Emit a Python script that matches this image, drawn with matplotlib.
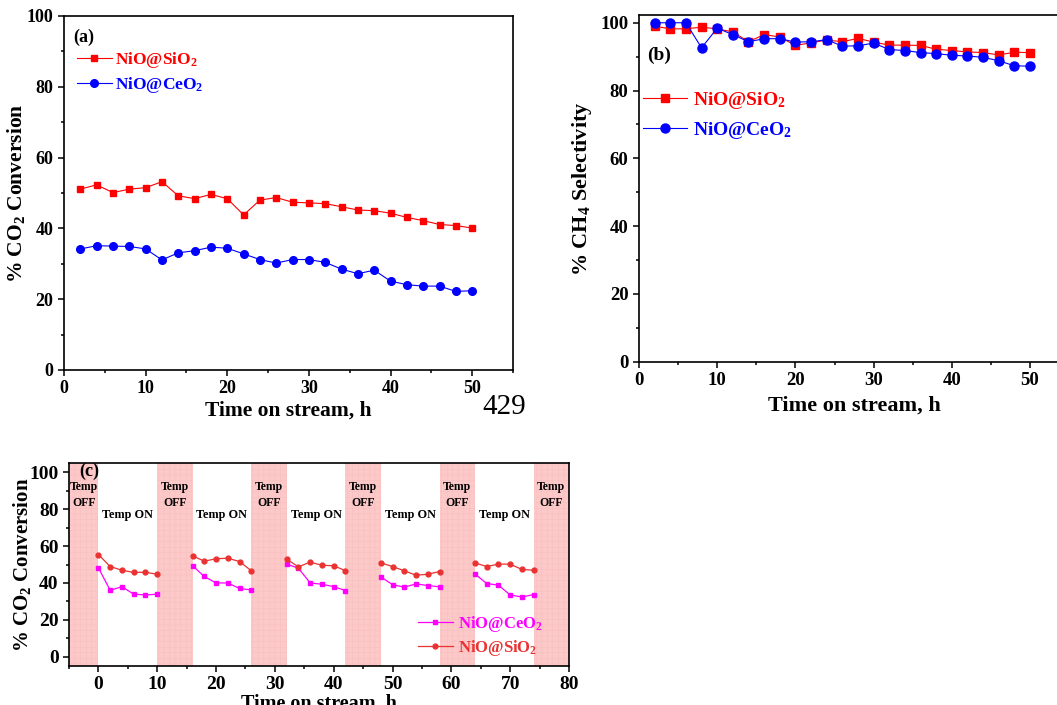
import matplotlib
matplotlib.use("Agg")
import matplotlib.pyplot as plt
import numpy as np

plt.rcParams['font.family'] = ['Liberation Serif', 'DejaVu Serif']
plt.rcParams['font.weight'] = 'bold'
plt.rcParams['mathtext.fontset'] = 'custom'
plt.rcParams['mathtext.rm'] = 'Liberation Serif:bold'
plt.rcParams['mathtext.bf'] = 'Liberation Serif:bold'
plt.rcParams['mathtext.default'] = 'rm'
plt.rcParams['hatch.linewidth'] = 0.3

# ---------------- data ----------------
time_ab = [2, 4, 6, 8, 10, 12, 14, 16, 18, 20, 22, 24, 26, 28, 30, 32, 34, 36, 38, 40, 42, 44, 46, 48, 50]

conv_sio2 = [51.1, 52.3, 50.1, 51.1, 51.5, 53.2, 49.2, 48.4, 49.6, 48.4, 43.8, 48.0, 48.7,
             47.4, 47.2, 47.0, 46.1, 45.2, 45.0, 44.3, 43.1, 42.2, 41.1, 40.8, 40.1]
conv_ceo2 = [34.2, 35.1, 35.0, 34.9, 34.2, 31.1, 33.1, 33.7, 34.7, 34.4, 32.8, 31.2, 30.2,
             31.2, 31.2, 30.4, 28.5, 27.2, 28.2, 25.1, 24.1, 23.7, 23.7, 22.2, 22.4]

sel_sio2 = [99.0, 98.2, 98.2, 98.7, 98.2, 97.3, 94.4, 96.5, 95.8, 93.3, 94.1, 94.9, 94.4,
            95.4, 94.3, 93.4, 93.4, 93.3, 92.2, 91.8, 91.4, 91.2, 90.5, 91.3, 91.2]
sel_ceo2 = [100.0, 100.0, 100.0, 92.6, 98.4, 96.5, 94.4, 95.3, 95.3, 94.3, 94.4, 95.0, 93.1,
            93.2, 94.0, 92.1, 91.8, 91.2, 90.9, 90.4, 90.2, 89.8, 88.8, 87.3, 87.2]

# panel (c): on/off cycling, 5 "Temp ON" segments of 6 points each
time_c = [0, 2, 4, 6, 8, 10,
          16, 18, 20, 22, 24, 26,
          32, 34, 36, 38, 40, 42,
          48, 50, 52, 54, 56, 58,
          64, 66, 68, 70, 72, 74]
cyc_ceo2 = [48.2, 36.0, 38.0, 33.9, 33.5, 33.9,
            49.3, 43.5, 40.0, 40.0, 37.0, 36.2,
            50.2, 48.0, 40.0, 39.3, 38.0, 35.9,
            43.3, 39.1, 37.7, 39.5, 38.6, 37.9,
            44.9, 39.7, 38.8, 33.5, 32.4, 33.7]
cyc_sio2 = [55.4, 48.9, 46.9, 45.7, 45.8, 44.7,
            54.7, 51.8, 53.1, 53.4, 51.6, 46.6,
            52.9, 48.7, 51.3, 49.6, 49.3, 46.7,
            50.9, 48.9, 46.6, 44.2, 44.7, 46.2,
            50.9, 48.9, 50.2, 50.2, 47.3, 46.9]
seg_len = 6
off_starts = [-5, 10, 26, 42, 58, 74]
off_ends = [0, 16, 32, 48, 64, 80]
on_centers = [5, 21, 37, 53, 69]

lab_sio2 = r'NiO@SiO$_2$'
lab_ceo2 = r'NiO@CeO$_2$'

RED = '#ff0000'
BLUE = '#0000ff'
MAG = '#ff00ff'
RED_C = '#ea3232'
PINK = '#fcc8c8'
PINK_GRID = '#f8bebe'

W, H = 1057, 705
fig = plt.figure(figsize=(W / 100, H / 100), dpi=100)


def axes_px(left, top, right, bottom):
    return fig.add_axes([left / W, 1 - bottom / H, (right - left) / W, (bottom - top) / H])


def style(ax, fs):
    for s in ax.spines.values():
        s.set_linewidth(1.2)
    ax.tick_params(which='both', direction='out', top=False, right=False, width=1.1, labelsize=fs)
    ax.tick_params(which='major', length=4)
    ax.tick_params(which='minor', length=2.5)
    for t in ax.get_xticklabels() + ax.get_yticklabels():
        t.set_fontweight('bold')


# ---------------- panel (a) ----------------
axa = axes_px(64, 16, 513, 370)
axa.plot(time_ab, conv_sio2, color=RED, lw=0.8, marker='s', ms=5, label=lab_sio2)
axa.plot(time_ab, conv_ceo2, color=BLUE, lw=0.8, marker='o', ms=5.5, label=lab_ceo2)
axa.set_xlim(0, 55)
axa.set_ylim(0, 100)
axa.set_xticks(np.arange(0, 51, 10))
axa.set_xticks(np.arange(5, 56, 10), minor=True)
axa.set_yticks(np.arange(0, 101, 20))
axa.set_yticks(np.arange(10, 100, 20), minor=True)
style(axa, 13)
axa.set_xlabel('Time on stream, h', fontsize=15.5, fontweight='bold', labelpad=2)
axa.set_ylabel('% CO$_2$ Conversion', fontsize=15.5, fontweight='bold', labelpad=0)
axa.text(0.02, 0.94, '(a)', transform=axa.transAxes, fontsize=13, fontweight='bold',
         va='center', ha='left')
axa.legend(loc='upper left', bbox_to_anchor=(0.029, 0.905), frameon=False, fontsize=12.5,
           handlelength=2.0, handletextpad=0.2, labelspacing=0.3, borderpad=0,
           borderaxespad=0, numpoints=1, labelcolor='linecolor')

# ---------------- panel (b) ----------------
axb = axes_px(639, 15.3, 639 + 7.82 * 55, 361.7)
axb.plot(time_ab, sel_sio2, color=RED, lw=0.8, marker='s', ms=6, label=lab_sio2)
axb.plot(time_ab, sel_ceo2, color=BLUE, lw=0.8, marker='o', ms=6.5, label=lab_ceo2)
axb.set_xlim(0, 55)
axb.set_ylim(0, 102.2)
axb.set_xticks(np.arange(0, 51, 10))
axb.set_xticks(np.arange(5, 56, 10), minor=True)
axb.set_yticks(np.arange(0, 101, 20))
axb.set_yticks(np.arange(10, 100, 20), minor=True)
style(axb, 13.5)
axb.set_xlabel('Time on stream, h', fontsize=16, fontweight='bold', labelpad=5)
axb.set_ylabel('% CH$_4$ Selectivity', fontsize=16, fontweight='bold', labelpad=5)
axb.text(0.02, 0.885, '(b)', transform=axb.transAxes, fontsize=14, fontweight='bold',
         va='center', ha='left')
axb.legend(loc='upper left', bbox_to_anchor=(0.009, 0.785), frameon=False, fontsize=14,
           handlelength=2.27, handletextpad=0.3, labelspacing=0.45, borderpad=0,
           borderaxespad=0, numpoints=1, labelcolor='linecolor')

# ---------------- panel (c) ----------------
axc = axes_px(69, 463, 569, 666)
for s0, s1 in zip(off_starts, off_ends):
    axc.axvspan(s0, s1, facecolor=PINK, edgecolor=PINK_GRID, hatch='+++', lw=0, zorder=0)
    axc.text((s0 + s1) / 2, 87.5, 'Temp\nOFF', ha='center', va='center', fontsize=8.5,
             fontweight='bold', linespacing=1.45)
for c in on_centers:
    axc.text(c, 77, 'Temp ON', ha='center', va='center', fontsize=8.8, fontweight='bold')
n_seg = len(time_c) // seg_len
for k in range(n_seg):
    sl = slice(k * seg_len, (k + 1) * seg_len)
    axc.plot(time_c[sl], cyc_ceo2[sl], color=MAG, lw=0.9, marker='s', ms=3.2,
             label=lab_ceo2 if k == 0 else None)
    axc.plot(time_c[sl], cyc_sio2[sl], color=RED_C, lw=0.9, marker='o', ms=3.5,
             label=lab_sio2 if k == 0 else None)
axc.set_xlim(-5, 80)
axc.set_ylim(-5, 105)
axc.set_xticks(np.arange(0, 81, 10))
axc.set_xticks(np.arange(-5, 80, 10), minor=True)
axc.set_yticks(np.arange(0, 101, 20))
axc.set_yticks(np.arange(10, 100, 20), minor=True)
style(axc, 14)
axc.set_xlabel('Time on stream, h', fontsize=14.5, fontweight='bold', labelpad=0)
axc.set_ylabel('% CO$_2$ Conversion', fontsize=15, fontweight='bold', labelpad=-3)
axc.text(0.02, 0.96, '(c)', transform=axc.transAxes, fontsize=13, fontweight='bold',
         va='center', ha='left')
axc.legend(loc='upper left', bbox_to_anchor=(0.697, 0.255), frameon=False, fontsize=12,
           handlelength=2.1, handletextpad=0.3, labelspacing=0.2, borderpad=0,
           borderaxespad=0, numpoints=1, labelcolor='linecolor')

fig.text(504 / W, 1 - 407 / H, '429', fontsize=21, fontweight='normal', ha='center', va='center')

fig.savefig('out.png', dpi=100)
